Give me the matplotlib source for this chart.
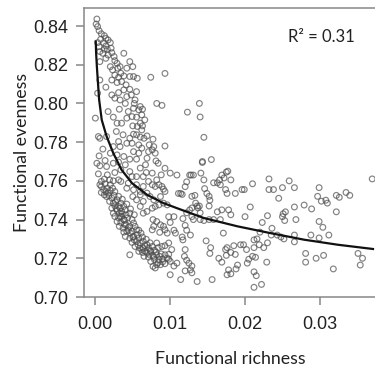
import numpy as np
import matplotlib
matplotlib.use("Agg")
import matplotlib.pyplot as plt

# points, (functional richness, functional evenness)
upper_branch = [
    (0.0002, 0.8436), (0.0001, 0.841), (0.0003, 0.8397), (0.0005, 0.8376), (0.0008, 0.836),
    (0.0012, 0.835), (0.0014, 0.8336), (0.0017, 0.8328), (0.0007, 0.8331), (0.0003, 0.8314),
    (0.0005, 0.8293), (0.0011, 0.8314), (0.0014, 0.8297), (0.002, 0.8314), (0.0012, 0.828),
    (0.0016, 0.828), (0.0006, 0.8268), (0.001, 0.8259), (0.0021, 0.8285), (0.0022, 0.8262),
    (0.0017, 0.825), (0.0025, 0.8242), (0.0014, 0.8233), (0.0006, 0.8216), (0.0026, 0.8221),
    (0.0029, 0.8207), (0.002, 0.819), (0.0023, 0.8173), (0.003, 0.8182), (0.0033, 0.819),
    (0.0038, 0.8259), (0.0046, 0.8216), (0.005, 0.819), (0.0042, 0.8182), (0.0034, 0.8156),
    (0.0026, 0.8147), (0.0031, 0.8135), (0.0038, 0.8142), (0.0046, 0.8139), (0.0051, 0.8139),
    (0.0056, 0.813), (0.0074, 0.8135), (0.0006, 0.8121), (0.0022, 0.8121), (0.0029, 0.8108),
    (0.0035, 0.8113), (0.0041, 0.8096), (0.0046, 0.8073), (0.0014, 0.8084), (0.0003, 0.8053),
    (0.0022, 0.8044), (0.0031, 0.8056), (0.0038, 0.807), (0.0055, 0.8061), (0.0042, 0.8035),
    (0.0048, 0.8044), (0.0053, 0.8018), (0.0033, 0.8018), (0.0026, 0.8027), (0.004, 0.800),
    (0.0052, 0.800), (0.006, 0.7984), (0.0063, 0.797), (0.0058, 0.7967), (0.0017, 0.7958),
    (0.0044, 0.7958), (0.0051, 0.7975), (0.0032, 0.797), (0.0000, 0.7924), (0.0024, 0.7929),
    (0.0042, 0.7924), (0.0049, 0.7932), (0.0055, 0.7929), (0.0062, 0.7941), (0.0066, 0.7915),
    (0.0029, 0.7898), (0.0035, 0.7898), (0.006, 0.7898), (0.005, 0.7884), (0.0056, 0.7881),
    (0.0062, 0.7863), (0.0063, 0.7884), (0.0028, 0.7855), (0.0037, 0.7838), (0.0051, 0.7841),
    (0.0055, 0.7838), (0.0046, 0.782), (0.006, 0.7826), (0.0065, 0.782), (0.0069, 0.7832),
    (0.0077, 0.7815), (0.0004, 0.7829), (0.0006, 0.782), (0.0015, 0.7829), (0.0031, 0.7803),
    (0.0042, 0.7794), (0.0049, 0.7794), (0.0058, 0.7786), (0.0072, 0.7786), (0.0078, 0.7777),
]

middle_cloud = [
    (0.001, 0.7764), (0.0024, 0.7777), (0.0033, 0.7777), (0.0062, 0.7769), (0.0076, 0.776),
    (0.0071, 0.7751), (0.008, 0.7743), (0.0051, 0.7751), (0.0058, 0.7743), (0.002, 0.7743),
    (0.0029, 0.7734), (0.0038, 0.7726), (0.0046, 0.7712), (0.0055, 0.7712), (0.0069, 0.7717),
    (0.0081, 0.7703), (0.0084, 0.7691), (0.0005, 0.7729), (0.0002, 0.7691), (0.0013, 0.7705),
    (0.0024, 0.7691), (0.0031, 0.7697), (0.004, 0.7683), (0.0067, 0.7683), (0.0006, 0.7678),
    (0.0015, 0.7674), (0.0034, 0.7657), (0.0046, 0.7648), (0.006, 0.7666), (0.0068, 0.7643),
    (0.0076, 0.764), (0.0088, 0.7631), (0.0004, 0.7636), (0.0016, 0.7631), (0.0026, 0.7643),
    (0.0049, 0.7622), (0.0055, 0.7622), (0.0064, 0.7622), (0.0082, 0.7605), (0.0071, 0.7597),
    (0.0076, 0.758), (0.008, 0.7571), (0.0085, 0.758), (0.0089, 0.7571), (0.0091, 0.7557),
    (0.0064, 0.7571), (0.0055, 0.758), (0.0044, 0.7588), (0.0034, 0.7597), (0.0031, 0.7605),
    (0.0024, 0.760), (0.0019, 0.7605), (0.0012, 0.7609), (0.0008, 0.7597), (0.0042, 0.7562),
    (0.0051, 0.7554), (0.006, 0.7545), (0.0069, 0.7537), (0.0073, 0.7519), (0.005, 0.7519),
    (0.0055, 0.7502), (0.0064, 0.7494), (0.0076, 0.7459), (0.008, 0.7468), (0.0085, 0.7476),
    (0.0091, 0.7485), (0.0096, 0.7476), (0.006, 0.7468), (0.0064, 0.7433), (0.0069, 0.7442),
    (0.0077, 0.740), (0.0082, 0.739), (0.0087, 0.7373), (0.0091, 0.7365), (0.0093, 0.7347),
    (0.0078, 0.7365), (0.0076, 0.7347), (0.0096, 0.733), (0.0086, 0.7334), (0.0098, 0.7279),
    (0.0093, 0.7265), (0.0082, 0.7279), (0.0089, 0.7261), (0.006, 0.7528), (0.0078, 0.7502),
    (0.0093, 0.7545), (0.0087, 0.7519),
]

lower_band = [
    (0.0008, 0.7571), (0.0011, 0.7554), (0.0014, 0.7545), (0.0008, 0.754), (0.0012, 0.7528),
    (0.0017, 0.7537), (0.002, 0.755), (0.0023, 0.7562), (0.0026, 0.7545), (0.0015, 0.7519),
    (0.0022, 0.7511), (0.0019, 0.7494), (0.0024, 0.7485), (0.0029, 0.7502), (0.0026, 0.7471),
    (0.0022, 0.7459), (0.0031, 0.7468), (0.0034, 0.7485), (0.0038, 0.7468), (0.0029, 0.7447),
    (0.0024, 0.7433), (0.0032, 0.7433), (0.0035, 0.7442), (0.004, 0.745), (0.0026, 0.7416),
    (0.0031, 0.7408), (0.0035, 0.7416), (0.0041, 0.7425), (0.0046, 0.7433), (0.0029, 0.739),
    (0.0034, 0.7385), (0.0038, 0.740), (0.0043, 0.7408), (0.0049, 0.740), (0.0032, 0.7365),
    (0.0037, 0.7356), (0.0041, 0.7373), (0.0046, 0.7365), (0.0051, 0.7382), (0.0038, 0.7335),
    (0.0042, 0.7339), (0.0049, 0.7339), (0.0055, 0.7347), (0.004, 0.7313), (0.0046, 0.7304),
    (0.0051, 0.7313), (0.0056, 0.7322), (0.0061, 0.733), (0.0049, 0.7282), (0.0055, 0.7287),
    (0.006, 0.7279), (0.0064, 0.7287), (0.0069, 0.727), (0.0053, 0.7261), (0.0059, 0.7253),
    (0.0064, 0.7253), (0.0071, 0.7253), (0.0076, 0.7261), (0.0058, 0.7236), (0.0063, 0.723),
    (0.0069, 0.7227), (0.0074, 0.7236), (0.0079, 0.7242), (0.0046, 0.7218), (0.0065, 0.721),
    (0.0071, 0.7206), (0.0077, 0.7213), (0.0082, 0.7218), (0.0088, 0.7223), (0.0093, 0.7218),
    (0.0074, 0.7184), (0.0079, 0.7193), (0.0085, 0.7193), (0.009, 0.7196), (0.0096, 0.7201),
    (0.0077, 0.7158), (0.0082, 0.7167), (0.0087, 0.7167), (0.0093, 0.7172), (0.010, 0.7184),
    (0.008, 0.715), (0.0006, 0.758), (0.0013, 0.7585), (0.002, 0.758), (0.0016, 0.7562),
    (0.0018, 0.7525), (0.0027, 0.749), (0.0033, 0.746), (0.0036, 0.743), (0.0039, 0.7395),
    (0.0044, 0.736), (0.0047, 0.733), (0.0052, 0.7295), (0.0057, 0.727), (0.0062, 0.7245),
    (0.0067, 0.7235), (0.0072, 0.722), (0.0078, 0.7205), (0.0084, 0.7178), (0.009, 0.7182),
    (0.0098, 0.7195), (0.0028, 0.7455), (0.0033, 0.7415), (0.0039, 0.7375), (0.0044, 0.7345),
    (0.005, 0.731), (0.0058, 0.7305), (0.0066, 0.7265), (0.0073, 0.724), (0.0081, 0.7232),
    (0.0086, 0.721), (0.0025, 0.7525), (0.0031, 0.752), (0.0036, 0.7505), (0.0042, 0.748),
    (0.0047, 0.7455), (0.0052, 0.7425), (0.0053, 0.7365), (0.0058, 0.7345), (0.0063, 0.731),
    (0.0068, 0.7298), (0.0073, 0.728), (0.0084, 0.7255),
]

right_scatter = [
    (0.037, 0.761), (0.0351, 0.7225), (0.0357, 0.720), (0.0354, 0.7165), (0.0318, 0.7145),
    (0.0322, 0.744), (0.0326, 0.7515), (0.0322, 0.7525), (0.034, 0.7525), (0.0335, 0.754),
    (0.031, 0.7485), (0.0308, 0.750), (0.0299, 0.7565), (0.0297, 0.752), (0.0302, 0.7495),
    (0.0299, 0.739), (0.0304, 0.736), (0.0288, 0.732), (0.0299, 0.7305), (0.0312, 0.732),
    (0.0281, 0.7225), (0.0281, 0.718), (0.0295, 0.720), (0.0305, 0.7215), (0.0279, 0.7475),
    (0.0289, 0.7455), (0.0266, 0.7565), (0.0259, 0.760), (0.025, 0.7565), (0.0266, 0.7465),
    (0.0268, 0.740), (0.0266, 0.732), (0.0266, 0.7285), (0.0254, 0.744), (0.0251, 0.743),
    (0.0253, 0.7395), (0.025, 0.7415), (0.0245, 0.751), (0.0232, 0.7555), (0.0238, 0.7555),
    (0.0232, 0.761), (0.023, 0.742), (0.0236, 0.7355), (0.0243, 0.732), (0.0248, 0.731),
    (0.0252, 0.730), (0.0235, 0.732), (0.0229, 0.718), (0.0222, 0.7065), (0.0212, 0.705),
    (0.0215, 0.711), (0.0212, 0.713), (0.0214, 0.7205), (0.021, 0.721), (0.0223, 0.7385),
    (0.022, 0.7335), (0.0216, 0.730), (0.0212, 0.7295), (0.0212, 0.7255), (0.0225, 0.7255),
    (0.0219, 0.727), (0.023, 0.728), (0.021, 0.7585), (0.0207, 0.7465), (0.020, 0.7415),
    (0.0196, 0.7555), (0.0199, 0.7555), (0.0202, 0.7245), (0.0205, 0.7195), (0.0203, 0.7175),
    (0.0198, 0.727), (0.0194, 0.727), (0.019, 0.7165), (0.0185, 0.7265), (0.0181, 0.723),
    (0.0187, 0.722), (0.0178, 0.714), (0.0181, 0.712), (0.0176, 0.7115), (0.0188, 0.7145),
    (0.0174, 0.7245), (0.0176, 0.7255), (0.0175, 0.7215), (0.0165, 0.720), (0.0169, 0.718),
    (0.0181, 0.7425), (0.0178, 0.745), (0.0187, 0.7535), (0.0176, 0.7535), (0.0174, 0.7555),
    (0.0175, 0.7645), (0.0177, 0.765), (0.0181, 0.7605), (0.0172, 0.7615), (0.0169, 0.763),
    (0.0166, 0.7605), (0.0163, 0.759), (0.0167, 0.758), (0.0158, 0.759), (0.0155, 0.771),
    (0.0143, 0.770), (0.0143, 0.7695), (0.0145, 0.7825), (0.014, 0.793), (0.0139, 0.800),
    (0.0123, 0.7955), (0.0141, 0.764), (0.0145, 0.7605), (0.0146, 0.756), (0.0149, 0.7535),
    (0.0152, 0.752), (0.0153, 0.750), (0.0152, 0.747), (0.0163, 0.744), (0.0169, 0.745),
    (0.0167, 0.740), (0.0158, 0.740), (0.0171, 0.733), (0.0152, 0.740), (0.0145, 0.7395),
    (0.014, 0.740), (0.0137, 0.746), (0.0139, 0.747), (0.014, 0.7435), (0.0148, 0.729),
    (0.0154, 0.7255), (0.0153, 0.7225), (0.0156, 0.709), (0.0128, 0.763), (0.0126, 0.763),
    (0.0131, 0.763), (0.0122, 0.7595), (0.012, 0.757), (0.0116, 0.753), (0.0114, 0.7535),
    (0.0111, 0.7535), (0.0129, 0.752), (0.0133, 0.7525), (0.0134, 0.7485), (0.0136, 0.747),
    (0.0129, 0.746), (0.0126, 0.745), (0.0122, 0.7435), (0.0129, 0.7415), (0.0131, 0.740),
    (0.0117, 0.7405), (0.012, 0.737), (0.0122, 0.7345), (0.0127, 0.732), (0.0116, 0.731),
    (0.0117, 0.7295), (0.012, 0.7245), (0.0107, 0.733), (0.0105, 0.7345), (0.010, 0.7385),
    (0.0098, 0.7415), (0.0105, 0.7415), (0.0102, 0.7245), (0.0098, 0.722), (0.0119, 0.721),
    (0.0122, 0.719), (0.0125, 0.7175), (0.0129, 0.716), (0.0127, 0.714), (0.0129, 0.7125),
    (0.012, 0.7135), (0.0114, 0.709), (0.0136, 0.708), (0.0109, 0.7175), (0.0105, 0.716),
    (0.010, 0.7115), (0.010, 0.764), (0.0109, 0.763), (0.0093, 0.7665), (0.0093, 0.778),
    (0.0093, 0.8155), (0.0082, 0.800), (0.0089, 0.799),
]

# fitted curve, read at a few positions along the line
fit_x = [0.00005, 0.0001, 0.0002, 0.0005, 0.00085, 0.0015, 0.0024, 0.0035, 0.0049,
         0.0069, 0.0091, 0.0109, 0.0145, 0.019, 0.0234, 0.0279, 0.0324, 0.0371]
fit_y = [0.832, 0.826, 0.819, 0.802, 0.7915, 0.783, 0.7743, 0.7657, 0.7588,
         0.7528, 0.7485, 0.7459, 0.7408, 0.7365, 0.733, 0.7296, 0.727, 0.7248]

x_ticks = [0.00, 0.01, 0.02, 0.03]
y_ticks = [0.70, 0.72, 0.74, 0.76, 0.78, 0.80, 0.82, 0.84]
r2_text = "R² = 0.31"

pts = np.array(upper_branch + middle_cloud + lower_band + right_scatter)

fig = plt.figure(figsize=(3.75, 3.69), dpi=100)
ax = fig.add_axes([84 / 375, 1 - 297 / 369, 291 / 375 + 0.003, 289 / 369])

ax.scatter(pts[:, 0], pts[:, 1], s=17, facecolors="none",
           edgecolors=(0.3, 0.3, 0.3, 0.7), linewidths=0.85, zorder=2)
ax.plot(fit_x, fit_y, color="#111111", linewidth=1.6, zorder=3)

ax.set_xlim(-0.00152, 0.03752)
ax.set_ylim(0.70, 0.8493)
ax.set_xticks(x_ticks)
ax.set_xticklabels([f"{v:.2f}" for v in x_ticks])
ax.set_yticks(y_ticks)
ax.set_yticklabels([f"{v:.2f}" for v in y_ticks])

for s in ax.spines.values():
    s.set_color("#888888")
    s.set_linewidth(1.1)
ax.tick_params(colors="#888888", labelcolor="#222222", length=5.5, width=1.1,
               labelsize=13, pad=6)
for lab in ax.get_xticklabels() + ax.get_yticklabels():
    lab.set_family("Liberation Sans")
ax.tick_params(axis="x", pad=8)

ax.set_xlabel("Functional richness", fontsize=12.8, family="Lato", color="#222222", labelpad=13)
ax.set_ylabel("Functional evenness", fontsize=12.8, family="Lato", color="#222222", labelpad=2)
ax.text(0.70, 0.90, r2_text, transform=ax.transAxes, fontsize=12, family="Lato",
        color="#222222", va="center", ha="left")

fig.savefig("out.png", dpi=100)
